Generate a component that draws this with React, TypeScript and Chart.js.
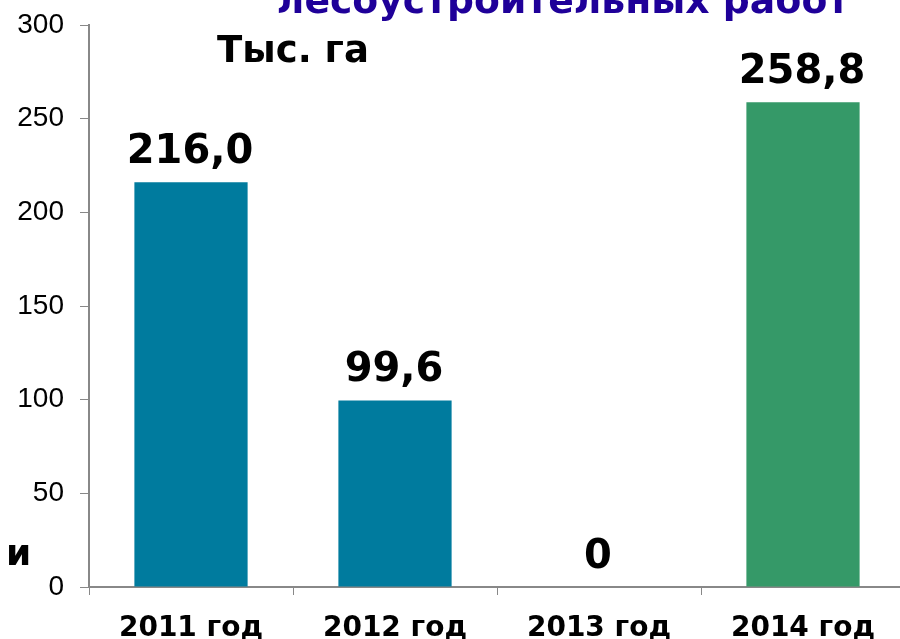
import React, { useEffect, useRef } from "react";
import { Chart, registerables } from "chart.js";

Chart.register(...registerables);

const categories = ["2011 год", "2012 год", "2013 год", "2014 год"];
const values = [216.0, 99.6, 0, 258.8];
const barColors = ["#007B9E", "#007B9E", "#007B9E", "#359968"];
const yMin = 0;
const yMax = 300;
const yStep = 50;
const titleText = "лесоустроительных работ";
const unitText = "Тыс. га";
const sideText = "и";

const fmt = (v: number) => (v === 0 ? "0" : v.toFixed(1).replace(".", ","));

const textPlugin = {
  id: "textPlugin",
  afterDatasetsDraw(chart: any) {
    const ctx = chart.ctx;
    ctx.save();
    const meta = chart.getDatasetMeta(0);
    ctx.font = 'bold 40px "DejaVu Sans"';
    ctx.fillStyle = "#000";
    ctx.textAlign = "center";
    ctx.textBaseline = "alphabetic";
    meta.data.forEach((el: any, i: number) => {
      ctx.fillText(fmt(values[i]), el.x - 1, el.y - 19);
    });
    ctx.font = 'bold 37.7px "DejaVu Sans"';
    ctx.fillStyle = "#1F0099";
    ctx.fillText(titleText, 563, 13);
    ctx.fillStyle = "#000";
    ctx.textAlign = "left";
    ctx.font = 'bold 37px "DejaVu Sans"';
    ctx.fillText(unitText, 217, 62);
    ctx.font = 'bold 36px "DejaVu Sans"';
    ctx.fillText(sideText, 6, 565);
    ctx.restore();
  },
};

export default function App() {
  const ref = useRef<HTMLCanvasElement>(null);
  useEffect(() => {
    if (!ref.current) return;
    const chart = new Chart(ref.current, {
      type: "bar",
      data: {
        labels: categories,
        datasets: [
          {
            data: values,
            backgroundColor: barColors,
            borderWidth: 0,
            categoryPercentage: 1,
            barPercentage: 0.555,
          },
        ],
      },
      options: {
        animation: false,
        responsive: false,
        devicePixelRatio: 1,
        layout: { padding: { top: 25, right: 15, left: 0, bottom: 0 } },
        plugins: {
          legend: { display: false },
          tooltip: { enabled: false },
          title: { display: false },
        },
        scales: {
          x: {
            grid: {
              display: true,
              drawOnChartArea: false,
              offset: true,
              tickLength: 8,
              color: "#888",
            },
            border: { color: "#888", width: 2 },
            ticks: {
              color: "#000",
              font: { family: "DejaVu Sans", size: 28, weight: "bold" },
              padding: 17,
              maxRotation: 0,
              autoSkip: false,
            },
            afterFit: (s: any) => {
              s.height = 52;
              s.paddingLeft = 0;
              s.paddingRight = 0;
            },
          },
          y: {
            min: yMin,
            max: yMax,
            grid: {
              display: true,
              drawOnChartArea: false,
              tickLength: 9,
              color: "#888",
            },
            border: { color: "#888", width: 2 },
            ticks: {
              stepSize: yStep,
              color: "#000",
              font: { family: "Liberation Sans", size: 28 },
              padding: 16,
            },
            afterFit: (s: any) => {
              s.width = 89;
              s.paddingTop = 0;
              s.paddingBottom = 0;
            },
          },
        },
      },
      plugins: [textPlugin],
    });
    return () => chart.destroy();
  }, []);
  return (
    <div
      style={{
        position: "fixed",
        left: 0,
        top: 0,
        width: 900,
        height: 639,
        overflow: "hidden",
        background: "#fff",
      }}
    >
      <canvas ref={ref} width={920} height={639} style={{ display: "block" }} />
    </div>
  );
}
